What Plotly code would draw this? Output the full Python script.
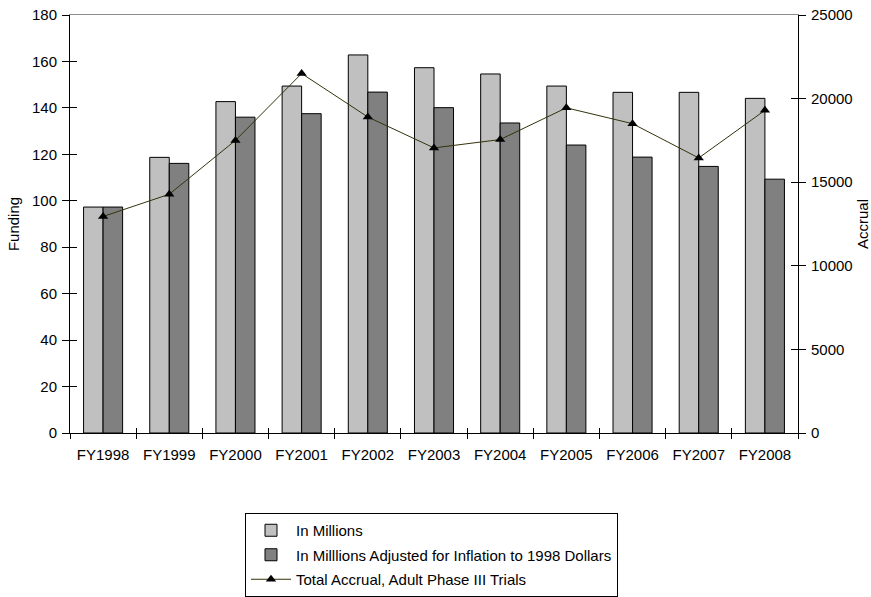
import plotly.graph_objects as go

categories = ["FY1998", "FY1999", "FY2000", "FY2001", "FY2002", "FY2003",
              "FY2004", "FY2005", "FY2006", "FY2007", "FY2008"]
funding_millions = [97.3, 118.7, 142.7, 149.4, 162.8, 157.3, 154.6, 149.4, 146.7, 146.7, 144.1]
funding_adjusted = [97.3, 116.1, 136.0, 137.5, 146.8, 140.1, 133.5, 124.0, 118.8, 114.8, 109.3]
accrual = [12950, 14280, 17500, 21500, 18900, 17050, 17550, 19450, 18500, 16450, 19300]

left_ticks = list(range(0, 181, 20))
right_ticks = list(range(0, 25001, 5000))
right_labels = [str(v) for v in right_ticks]
boundaries = [i - 0.5 for i in range(len(categories) + 1)]

FONT = "Liberation Sans, Arial, Helvetica, sans-serif"
FS = 15

fig = go.Figure()
fig.add_trace(go.Bar(
    x=categories, y=funding_millions, name="In Millions",
    marker=dict(color="#C0C0C0", line=dict(color="black", width=1)),
    legendgroup="a", xaxis="x", yaxis="y"))
fig.add_trace(go.Bar(
    x=categories, y=funding_adjusted,
    name="In Milllions Adjusted for Inflation to 1998 Dollars",
    marker=dict(color="#808080", line=dict(color="black", width=1)),
    legendgroup="b", xaxis="x", yaxis="y"))
fig.add_trace(go.Scatter(
    x=categories, y=accrual, name="Total Accrual, Adult Phase III Trials",
    mode="lines+markers",
    line=dict(color="#33330A", width=1),
    marker=dict(symbol="triangle-up", size=9, color="black"),
    legendgroup="c", xaxis="x", yaxis="y2"))
# empty helper traces so tick-crossing overlay axes are drawn
fig.add_trace(go.Scatter(x=[], y=[], xaxis="x", yaxis="y3", showlegend=False, hoverinfo="skip"))
fig.add_trace(go.Scatter(x=[], y=[], xaxis="x", yaxis="y4", showlegend=False, hoverinfo="skip"))
fig.add_trace(go.Scatter(x=[], y=[], xaxis="x2", yaxis="y", showlegend=False, hoverinfo="skip"))
fig.add_trace(go.Scatter(x=[], y=[], xaxis="x3", yaxis="y", showlegend=False, hoverinfo="skip"))

tickfont = dict(family=FONT, size=FS, color="black")

fig.update_layout(
    width=871, height=597,
    margin=dict(l=70, r=73, t=15, b=164, autoexpand=False),
    paper_bgcolor="white", plot_bgcolor="white",
    font=dict(family=FONT, size=FS, color="black"),
    barmode="group", bargap=0.41, bargroupgap=0,
    xaxis=dict(type="category", categoryarray=categories, range=[-0.5, 10.5],
               tickson="boundaries", ticks="inside", ticklen=5, tickcolor="black",
               showline=True, linecolor="black", linewidth=1, showgrid=False,
               tickfont=tickfont, zeroline=False, ticklabelstandoff=8),
    xaxis2=dict(type="linear", overlaying="x", anchor="y", side="bottom",
                range=[-0.5, 10.5], tickvals=boundaries, ticks="outside", ticklen=5,
                tickcolor="black", showticklabels=False, showline=False,
                showgrid=False, zeroline=False),
    xaxis3=dict(type="linear", overlaying="x", anchor="y", side="top",
                range=[-0.5, 10.5], showline=True, linecolor="#8C8C8C", linewidth=1,
                ticks="", showticklabels=False, showgrid=False, zeroline=False),
    yaxis=dict(range=[0, 180], tickvals=left_ticks, ticks="inside", ticklen=7,
               tickcolor="black", showline=True, linecolor="black", linewidth=1,
               showgrid=False, zeroline=False, tickfont=tickfont, ticklabelstandoff=9,
               title=dict(text="Funding", font=dict(family=FONT, size=FS), standoff=8)),
    yaxis2=dict(range=[0, 25000], tickvals=right_ticks, ticktext=right_labels,
                overlaying="y", side="right",
                anchor="x", ticks="inside", ticklen=7, tickcolor="black",
                showline=True, linecolor="black", linewidth=1, showgrid=False,
                zeroline=False, tickfont=tickfont, ticklabelstandoff=9,
                title=dict(text="Accrual", font=dict(family=FONT, size=FS), standoff=14)),
    yaxis3=dict(range=[0, 180], tickvals=left_ticks, overlaying="y", side="left",
                anchor="x", ticks="outside", ticklen=7, tickcolor="black",
                showticklabels=False, showline=False, showgrid=False, zeroline=False),
    yaxis4=dict(range=[0, 25000], tickvals=right_ticks, overlaying="y", side="right",
                anchor="x", ticks="outside", ticklen=7, tickcolor="black",
                showticklabels=False, showline=False, showgrid=False, zeroline=False),
    legend=dict(x=0.2404, y=-0.1914, xanchor="left", yanchor="top",
                bordercolor="black", borderwidth=1, bgcolor="white",
                font=dict(family=FONT, size=FS, color="black"),
                traceorder="grouped", tracegroupgap=2, itemwidth=40),
    showlegend=True,
)

fig.write_html("out.html")
